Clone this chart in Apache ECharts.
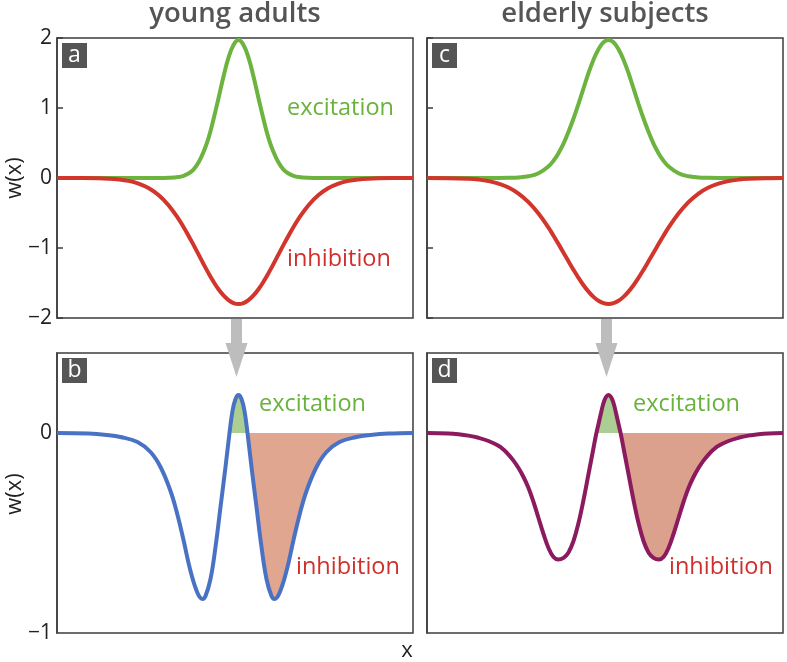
<!DOCTYPE html>
<html><head><meta charset="utf-8">
<script src="https://cdn.jsdelivr.net/npm/echarts@6/dist/echarts.min.js"></script>
<style>html,body{margin:0;padding:0;background:#fff}#c{width:787px;height:662px}</style>
</head><body><div id="c"></div>
<script>
// ---------- data ----------
const xTop = [-18.15,-16,-14,-13,-12,-11,-10,-9,-8,-7,-6,-5.5,-5,-4.5,-4,-3.5,-3,-2.5,-2,-1.5,-1,-0.5,0,0.5,1,1.5,2,2.5,3,3.5,4,4.5,5,5.5,6,7,8,9,10,11,12,13,14,16,17.45];
const youngExcitation = [0,0,0,0,0,0,0,0,0,0.003,0.014,0.031,0.064,0.12,0.22,0.37,0.57,0.84,1.14,1.45,1.72,1.90,1.97,1.90,1.72,1.45,1.14,0.84,0.57,0.37,0.22,0.12,0.064,0.031,0.014,0.003,0,0,0,0,0,0,0,0,0];
const youngInhibition = [0,-0.001,-0.004,-0.009,-0.020,-0.041,-0.079,-0.143,-0.244,-0.389,-0.584,-0.700,-0.824,-0.956,-1.092,-1.228,-1.359,-1.481,-1.589,-1.678,-1.744,-1.786,-1.8,-1.786,-1.744,-1.678,-1.589,-1.481,-1.359,-1.228,-1.092,-0.956,-0.824,-0.700,-0.584,-0.389,-0.244,-0.143,-0.079,-0.041,-0.020,-0.009,-0.004,-0.001,0];
const elderlyExcitation = [0,0,0,0,0,0,0.002,0.008,0.024,0.068,0.167,0.247,0.355,0.49,0.66,0.85,1.06,1.28,1.50,1.69,1.84,1.94,1.97,1.94,1.84,1.69,1.50,1.28,1.06,0.85,0.66,0.49,0.355,0.247,0.167,0.068,0.024,0.008,0.002,0,0,0,0,0,0];
const elderlyInhibition = [0,-0.002,-0.011,-0.023,-0.044,-0.079,-0.136,-0.222,-0.345,-0.508,-0.710,-0.824,-0.944,-1.067,-1.191,-1.312,-1.427,-1.532,-1.623,-1.698,-1.754,-1.788,-1.8,-1.788,-1.754,-1.698,-1.623,-1.532,-1.427,-1.312,-1.191,-1.067,-0.944,-0.824,-0.710,-0.508,-0.345,-0.222,-0.136,-0.079,-0.044,-0.023,-0.011,-0.002,0];

const xYoungNet = [-18.15,-15,-13.2,-11.8,-10.1,-8.8,-7.8,-6.8,-6.1,-5.5,-4.8,-4.1,-3.6,-3.3,-2.8,-2.3,-1.8,-1.3,-0.9,-0.6,-0.3,0,0.3,0.6,0.9,1.3,1.8,2.3,2.8,3.3,3.6,4.1,4.8,5.5,6.1,6.8,7.8,8.8,10.1,11.8,13.2,15,17.45];
const youngNet = [0,-0.003,-0.01,-0.02,-0.045,-0.095,-0.17,-0.29,-0.41,-0.535,-0.69,-0.80,-0.83,-0.815,-0.73,-0.57,-0.37,-0.17,0,0.11,0.17,0.19,0.17,0.11,0,-0.17,-0.37,-0.57,-0.73,-0.815,-0.83,-0.80,-0.69,-0.535,-0.41,-0.29,-0.17,-0.095,-0.045,-0.02,-0.01,-0.003,0];

const xElderlyNet = [-18.15,-16,-15,-14,-13,-12,-11,-10.5,-10,-9.5,-9,-8.5,-8,-7.5,-7,-6.5,-6,-5.5,-5.05,-4.5,-4,-3.5,-3,-2.5,-2,-1.5,-1.25,-1,-0.75,-0.5,-0.25,0,0.25,0.5,0.75,1,1.25,1.5,2,2.5,3,3.5,4,4.5,5.05,5.5,6,6.5,7,7.5,8,8.5,9,9.5,10,10.5,11,12,13,14,15,16,17.45];
const elderlyNet = [0,-0.002,-0.006,-0.013,-0.024,-0.04,-0.064,-0.083,-0.108,-0.138,-0.175,-0.22,-0.275,-0.345,-0.425,-0.505,-0.575,-0.62,-0.632,-0.624,-0.597,-0.54,-0.45,-0.335,-0.205,-0.075,-0.01,0.045,0.10,0.15,0.18,0.19,0.18,0.15,0.10,0.045,-0.01,-0.075,-0.205,-0.335,-0.45,-0.54,-0.597,-0.624,-0.632,-0.62,-0.575,-0.505,-0.425,-0.345,-0.275,-0.22,-0.175,-0.138,-0.108,-0.083,-0.064,-0.04,-0.024,-0.013,-0.006,-0.002,0];

const columnTitles = ['young adults', 'elderly subjects'];
const panelLetters = ['a', 'b', 'c', 'd'];
const curveLabels = ['excitation', 'inhibition'];
const topTicks = [-2, -1, 0, 1, 2];
const bottomTicks = [-1, 0];

// ---------- helpers ----------
const pairs = (xs, ys) => xs.map((x, i) => [x, ys[i]]);
function crossings(xs, ys) {
  const c = xs.indexOf(0); let l = c, r = c;
  while (l > 0 && ys[l] > 0) l--;
  while (r < ys.length - 1 && ys[r] > 0) r++;
  // linear estimate of the zero crossing between neighbours
  const zl = ys[l] === 0 ? xs[l] : xs[l] + (xs[l + 1] - xs[l]) * (0 - ys[l]) / (ys[l + 1] - ys[l]);
  const zr = ys[r] === 0 ? xs[r] : xs[r - 1] + (xs[r] - xs[r - 1]) * (0 - ys[r - 1]) / (ys[r] - ys[r - 1]);
  return { l, r, zl, zr };
}
function positivePart(xs, ys) {
  const { l, r, zl, zr } = crossings(xs, ys);
  const inner = pairs(xs.slice(l + 1, r), ys.slice(l + 1, r));
  return [[zl, 0]].concat(inner, [[zr, 0]]);
}
function rightNegativePart(xs, ys) {
  const { r, zr } = crossings(xs, ys);
  const rest = pairs(xs.slice(r), ys.slice(r)).filter(p => p[0] > zr);
  return [[zr, 0]].concat(rest);
}
const minus = v => (v < 0 ? '\u2212' + Math.abs(v) : String(v));
const FONT = '"Open Sans", "Noto Sans", sans-serif';

const GREEN = '#6cb33f', RED = '#d1352b', BLUE = '#4a72c4', PURPLE = '#8b1a5e';
const GREEN_FILL = '#abcf92', SALMON_B = '#e1a690', SALMON_D = '#dca18c';
const TXT_GREEN = '#6ab23e', TXT_RED = '#cf302c';

const grids = [
  { left: 57, top: 38, width: 356, height: 280 },
  { left: 57, top: 353, width: 356, height: 280 },
  { left: 427, top: 38, width: 356, height: 280 },
  { left: 427, top: 353, width: 356, height: 280 }
].map(g => Object.assign({ show: true, borderColor: '#3c3c3c', borderWidth: 1.5, backgroundColor: 'transparent' }, g));

const xAxes = [0, 1, 2, 3].map(i => ({ gridIndex: i, type: 'value', min: -18.15, max: 17.45, show: false }));

function yAxisFor(i) {
  const top = (i === 0 || i === 2);
  const showLabels = (i === 0 || i === 1);
  const ticks = top ? topTicks : bottomTicks;
  return {
    gridIndex: i, type: 'value', position: 'left',
    min: top ? -2 : -1, max: top ? 2 : 0.4, interval: 1,
    axisLine: { show: true, onZero: false, lineStyle: { color: '#3c3c3c', width: 1.5 } },
    axisTick: { show: top, inside: true, length: 6, lineStyle: { color: '#3c3c3c', width: 1.5 } },
    splitLine: { show: false },
    axisLabel: {
      show: showLabels, fontSize: 21, color: '#222', fontFamily: FONT, margin: 5,
      formatter: v => (ticks.indexOf(v) >= 0 ? minus(v) : '')
    }
  };
}

const lineBase = (idx, color) => ({
  type: 'line', xAxisIndex: idx, yAxisIndex: idx, smooth: 0.4, showSymbol: false,
  symbol: 'none', lineStyle: { color, width: 4 }, silent: true, animation: false
});
const fillBase = (idx, color, data) => ({
  type: 'line', xAxisIndex: idx, yAxisIndex: idx, smooth: 0.4, symbol: 'none',
  lineStyle: { width: 0, opacity: 0 }, areaStyle: { color, opacity: 1, origin: 'auto' },
  data, silent: true, animation: false, z: 1
});

const series = [
  Object.assign(lineBase(0, GREEN), { data: pairs(xTop, youngExcitation), z: 2 }),
  Object.assign(lineBase(0, RED), { data: pairs(xTop, youngInhibition), z: 3 }),
  fillBase(1, GREEN_FILL, positivePart(xYoungNet, youngNet)),
  fillBase(1, SALMON_B, rightNegativePart(xYoungNet, youngNet)),
  Object.assign(lineBase(1, BLUE), { data: pairs(xYoungNet, youngNet), z: 3 }),
  Object.assign(lineBase(2, GREEN), { data: pairs(xTop, elderlyExcitation), z: 2 }),
  Object.assign(lineBase(2, RED), { data: pairs(xTop, elderlyInhibition), z: 3 }),
  fillBase(3, GREEN_FILL, positivePart(xElderlyNet, elderlyNet)),
  fillBase(3, SALMON_D, rightNegativePart(xElderlyNet, elderlyNet)),
  Object.assign(lineBase(3, PURPLE), { data: pairs(xElderlyNet, elderlyNet), z: 3 })
];

const chart = echarts.init(document.getElementById('c'), null, { renderer: 'canvas' });
chart.setOption({
  animation: false,
  backgroundColor: '#fff',
  grid: grids, xAxis: xAxes, yAxis: [0, 1, 2, 3].map(yAxisFor), series
});

// ---------- annotations ----------
const txt = (x, y, text, fill, size, extra) => Object.assign({
  type: 'text', x, y, z: 100,
  style: { text, fill, font: `${size}px ${FONT}`, align: 'left', verticalAlign: 'middle' }
}, extra || {});

const graphics = [];
// column titles
[[0, 1], [2, 3]].forEach((g, k) => {
  const cx = (chart.convertToPixel({ gridIndex: g[0] }, [-18.15, 0])[0] + chart.convertToPixel({ gridIndex: g[0] }, [17.45, 0])[0]) / 2;
  graphics.push({ type: 'text', x: cx, y: 14, z: 100,
    style: { text: columnTitles[k], fill: '#555', font: `600 27.5px ${FONT}`, align: 'center', verticalAlign: 'middle' } });
});
// panel letters
[0, 1, 2, 3].forEach(i => {
  const p = chart.convertToPixel({ gridIndex: i }, [-18.15, i % 2 === 0 ? 2 : 0.4]);
  graphics.push({ type: 'rect', z: 100, shape: { x: p[0] + 5, y: p[1] + 5, width: 25, height: 25 }, style: { fill: '#555' } });
  graphics.push({ type: 'text', z: 101, x: p[0] + 17.5, y: p[1] + 17, style: { text: panelLetters[i], fill: '#fff', font: `500 23px ${FONT}`, align: 'center', verticalAlign: 'middle' } });
});
// arrows
[[0, 1], [2, 3]].forEach(g => {
  const a = chart.convertToPixel({ gridIndex: g[0] }, [0, -2]);
  const b = chart.convertToPixel({ gridIndex: g[1] }, [0, 0.4]);
  const cx = a[0] - 2;
  graphics.push({ type: 'rect', z: 110, shape: { x: cx - 5.5, y: a[1] + 1, width: 11, height: b[1] - 10 - a[1] }, style: { fill: '#bdbdbd' } });
  graphics.push({ type: 'polygon', z: 110, shape: { points: [[cx - 11, b[1] - 10], [cx + 11, b[1] - 10], [cx, b[1] + 24]] }, style: { fill: '#bdbdbd' } });
});
// curve labels
graphics.push(txt(287, 108, curveLabels[0], TXT_GREEN, 23.5));
graphics.push(txt(287, 259, curveLabels[1], TXT_RED, 23.5));
graphics.push(txt(259, 404, curveLabels[0], TXT_GREEN, 23.5));
graphics.push(txt(296, 567, curveLabels[1], TXT_RED, 23.5));
graphics.push(txt(633, 404, curveLabels[0], TXT_GREEN, 23.5));
graphics.push(txt(669, 567, curveLabels[1], TXT_RED, 23.5));
// axis titles
graphics.push({ type: 'text', x: 15, y: 178, rotation: Math.PI / 2, z: 100,
  style: { text: 'w(x)', fill: '#222', font: `22px ${FONT}`, align: 'center', verticalAlign: 'middle' } });
graphics.push({ type: 'text', x: 15, y: 494, rotation: Math.PI / 2, z: 100,
  style: { text: 'w(x)', fill: '#222', font: `22px ${FONT}`, align: 'center', verticalAlign: 'middle' } });
graphics.push({ type: 'text', x: 407, y: 651, z: 100,
  style: { text: 'x', fill: '#222', font: `22px ${FONT}`, align: 'center', verticalAlign: 'middle' } });

chart.setOption({ graphic: graphics });
</script></body></html>
